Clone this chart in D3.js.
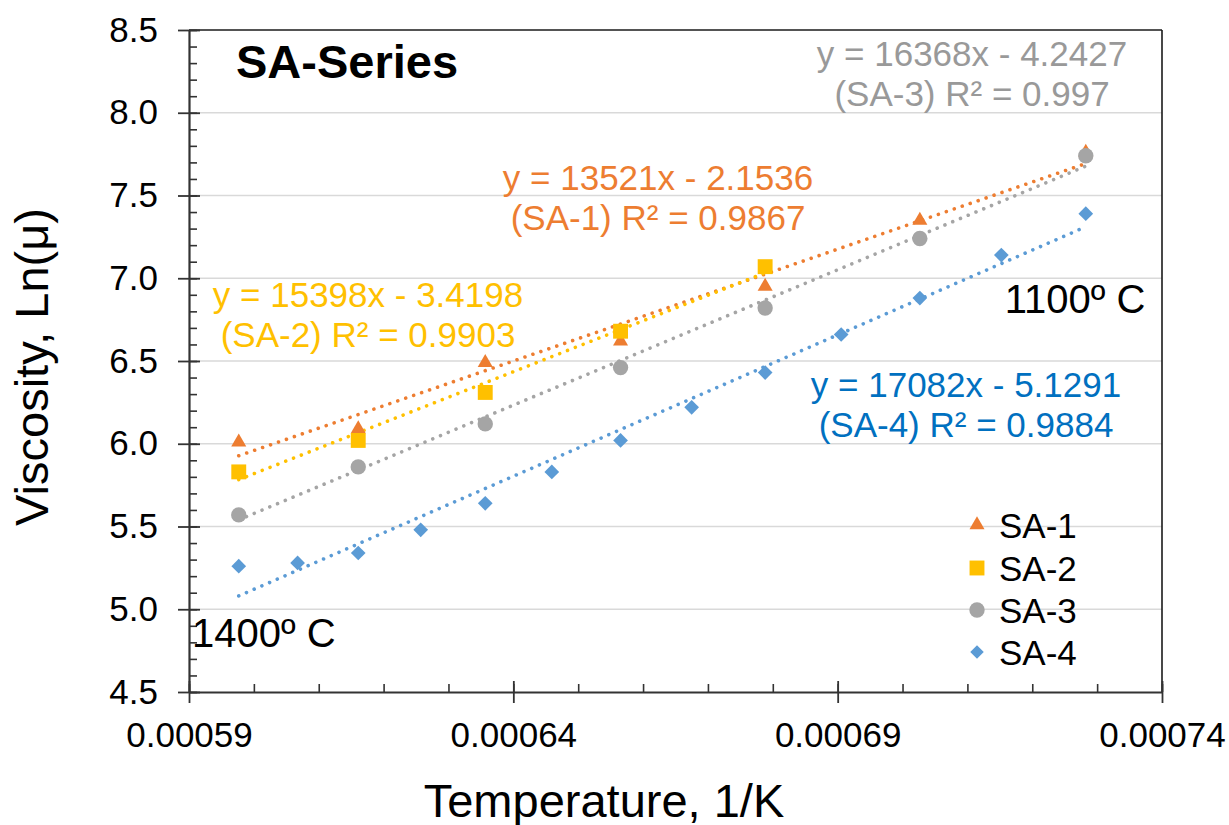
<!DOCTYPE html>
<html>
<head>
<meta charset="utf-8">
<script src="https://cdn.jsdelivr.net/npm/d3@7"></script>
<style>
  html, body { margin: 0; padding: 0; background: #fff; }
  svg { display: block; font-family: "Liberation Sans", Arial, sans-serif; }
</style>
</head>
<body>
<svg id="chart" width="1229" height="825"></svg>
<script>
// ---------------- DATA ----------------
const seriesNames = ["SA-1", "SA-2", "SA-3", "SA-4"];

// 1/K values (1400 .. 1100 ºC)
const invT7  = [0.00059767, 0.00061609, 0.00063567, 0.00065653, 0.00067882, 0.00070267, 0.00072825];
const invT5  = [0.00059767, 0.00061609, 0.00063567, 0.00065653, 0.00067882];
const invT13 = [0.00059767, 0.00060674, 0.00061609, 0.00062572, 0.00063567, 0.00064593, 0.00065653,
                0.00066749, 0.00067882, 0.00069054, 0.00070267, 0.00071523, 0.00072825];

const sa1 = [6.01, 6.09, 6.49, 6.62, 6.95, 7.35, 7.76];
const sa2 = [5.83, 6.02, 6.31, 6.68, 7.07];
const sa3 = [5.57, 5.86, 6.12, 6.46, 6.82, 7.24, 7.74];
const sa4 = [5.26, 5.28, 5.34, 5.48, 5.64, 5.83, 6.02, 6.22, 6.43, 6.66, 6.88, 7.14, 7.39];

// trendline coefficients (from equation labels)
const slopes     = [13521, 15398, 16368, 17082];
const intercepts = [-2.1536, -3.4198, -4.2427, -5.1291];
const r2         = ["0.9867", "0.9903", "0.997", "0.9884"];

const xTicks = [0.00059, 0.00064, 0.00069, 0.00074];
const xTickLabels = ["0.00059", "0.00064", "0.00069", "0.00074"];
const yTicks = [4.5, 5.0, 5.5, 6.0, 6.5, 7.0, 7.5, 8.0, 8.5];
const yTickLabels = ["4.5", "5.0", "5.5", "6.0", "6.5", "7.0", "7.5", "8.0", "8.5"];

const titleText = "SA-Series";
const xTitle = "Temperature, 1/K";
const yTitle = "Viscosity, Ln(\u03bc)";
const noteHigh = "1400\u00ba C";
const noteLow = "1100\u00ba C";

// ---------------- STYLE / LAYOUT ----------------
const colors = ["#ED7D31", "#FFC000", "#A5A5A5", "#5B9BD5"];
const labelColors = ["#ED7D31", "#FFC000", "#999999", "#0070C0"];
const shapes = ["triangle", "square", "circle", "diamond"];
const L = { left: 189, right: 1162, top: 30, bottom: 692 };
const FONT = "Liberation Sans, Arial, sans-serif";

const svg = d3.select("#chart");
svg.append("rect").attr("width", 1229).attr("height", 825).attr("fill", "#fff");

const x = d3.scaleLinear().domain([0.00059, 0.00074]).range([L.left, L.right]);
const y = d3.scaleLinear().domain([4.5, 8.5]).range([L.bottom, L.top]);

const series = [
  { name: seriesNames[0], xs: invT7,  ys: sa1 },
  { name: seriesNames[1], xs: invT5,  ys: sa2 },
  { name: seriesNames[2], xs: invT7,  ys: sa3 },
  { name: seriesNames[3], xs: invT13, ys: sa4 }
];

// gridlines
svg.append("g").selectAll("line").data(yTicks.slice(1, -1)).join("line")
  .attr("x1", L.left).attr("x2", L.right)
  .attr("y1", d => y(d)).attr("y2", d => y(d))
  .attr("stroke", "#d9d9d9").attr("stroke-width", 1.3);

// plot border top/right
svg.append("line").attr("x1", L.left).attr("x2", L.right).attr("y1", L.top).attr("y2", L.top)
  .attr("stroke", "#1a1a1a").attr("stroke-width", 1.6);
svg.append("line").attr("x1", L.right).attr("x2", L.right).attr("y1", L.top).attr("y2", L.bottom)
  .attr("stroke", "#1a1a1a").attr("stroke-width", 1.6);

// axes
const axisColor = "#333";
const xMinor = d3.range(0, 16).map(i => 0.00059 + i * 0.00001);
const yMinor = d3.range(0, 41).map(i => 4.5 + i * 0.1);

const gx = svg.append("g").attr("transform", `translate(0,${L.bottom})`);
gx.call(d3.axisBottom(x).tickValues(xMinor).tickSize(0).tickFormat(""));
gx.selectAll(".tick line").attr("y2", -8).attr("stroke", axisColor).attr("stroke-width", 1.6);
gx.select(".domain").remove();
const gxMaj = svg.append("g").attr("transform", `translate(0,${L.bottom})`);
gxMaj.call(d3.axisBottom(x).tickValues(xTicks).tickSizeInner(11).tickSizeOuter(0)
  .tickFormat((d, i) => xTickLabels[i]).tickPadding(19));
gxMaj.selectAll(".tick line").attr("y1", -11).attr("y2", 11).attr("stroke", axisColor).attr("stroke-width", 1.8);
gxMaj.select(".domain").attr("stroke", axisColor).attr("stroke-width", 2.2);
gxMaj.selectAll(".tick text").attr("font-size", 35).attr("fill", "#000").attr("font-family", FONT);

const gy = svg.append("g").attr("transform", `translate(${L.left},0)`);
gy.call(d3.axisLeft(y).tickValues(yMinor).tickSize(0).tickFormat(""));
gy.selectAll(".tick line").attr("x2", 8).attr("stroke", axisColor).attr("stroke-width", 1.6);
gy.select(".domain").remove();
const gyMaj = svg.append("g").attr("transform", `translate(${L.left},0)`);
gyMaj.call(d3.axisLeft(y).tickValues(yTicks).tickSizeInner(11).tickSizeOuter(0)
  .tickFormat((d, i) => yTickLabels[i]).tickPadding(20));
gyMaj.selectAll(".tick line").attr("x1", -11).attr("x2", 11).attr("stroke", axisColor).attr("stroke-width", 1.8);
gyMaj.select(".domain").attr("stroke", axisColor).attr("stroke-width", 2.2);
gyMaj.selectAll(".tick text").attr("font-size", 35).attr("fill", "#000").attr("font-family", FONT);

// trendlines
series.forEach((s, i) => {
  const [x0, x1] = d3.extent(s.xs);
  const pts = [[x0, slopes[i] * x0 + intercepts[i]], [x1, slopes[i] * x1 + intercepts[i]]];
  svg.append("path")
    .attr("d", d3.line().x(d => x(d[0])).y(d => y(d[1]))(pts))
    .attr("fill", "none").attr("stroke", colors[i]).attr("stroke-width", 3.6)
    .attr("stroke-linecap", "round").attr("stroke-dasharray", "0.01 8.4");
});

// markers
function symbolPath(shape, scale) {
  const k = scale || 1;
  if (shape === "triangle") return d3.symbol(d3.symbolTriangle, 98 * k * k)();
  if (shape === "square") return d3.symbol(d3.symbolSquare, 222 * k * k)();
  if (shape === "circle") return d3.symbol(d3.symbolCircle, 185 * k * k)();
  return d3.symbol(d3.symbolSquare, 108 * k * k)();
}
series.forEach((s, i) => {
  svg.append("g").selectAll("path").data(s.xs.map((v, j) => [v, s.ys[j]])).join("path")
    .attr("d", symbolPath(shapes[i]))
    .attr("transform", d => `translate(${x(d[0])},${y(d[1])})` + (shapes[i] === "diamond" ? " rotate(45)" : ""))
    .attr("fill", colors[i]);
});

// legend
const legY = [525, 568, 610, 652];
series.forEach((s, i) => {
  svg.append("path").attr("d", symbolPath(shapes[i], shapes[i] === "diamond" ? 0.92 : 1.0))
    .attr("transform", `translate(977,${legY[i]})` + (shapes[i] === "diamond" ? " rotate(45)" : ""))
    .attr("fill", colors[i]);
  svg.append("text").attr("x", 999).attr("y", legY[i] + 12.5).attr("font-size", 35)
    .attr("fill", "#000").text(s.name);
});

// equation labels
function fmtEq(i) {
  return `y = ${slopes[i]}x - ${Math.abs(intercepts[i])}`;
}
const eqPos = [[658, 190], [368, 307], [972, 66], [966, 397]];
series.forEach((s, i) => {
  const t = svg.append("text").attr("text-anchor", "middle").attr("font-size", 35)
    .attr("fill", labelColors[i]);
  t.append("tspan").attr("x", eqPos[i][0]).attr("y", eqPos[i][1]).text(fmtEq(i));
  t.append("tspan").attr("x", eqPos[i][0]).attr("y", eqPos[i][1] + 40)
    .text(`(${s.name}) R\u00b2 = ${r2[i]}`);
});

// annotations
svg.append("text").attr("x", 1075).attr("y", 313).attr("text-anchor", "middle")
  .attr("font-size", 40).attr("fill", "#000").text(noteLow);
svg.append("text").attr("x", 192).attr("y", 647)
  .attr("font-size", 40).attr("fill", "#000").text(noteHigh);

// title
svg.append("text").attr("x", 236).attr("y", 78).attr("font-size", 47).attr("font-weight", "bold")
  .attr("fill", "#000").text(titleText);

// axis titles
svg.append("text").attr("x", 604).attr("y", 817).attr("text-anchor", "middle")
  .attr("font-size", 47).attr("fill", "#000").text(xTitle);
svg.append("text").attr("transform", "translate(48,367) rotate(-90)").attr("text-anchor", "middle")
  .attr("font-size", 47).attr("fill", "#000").text(yTitle);
</script>
</body>
</html>
